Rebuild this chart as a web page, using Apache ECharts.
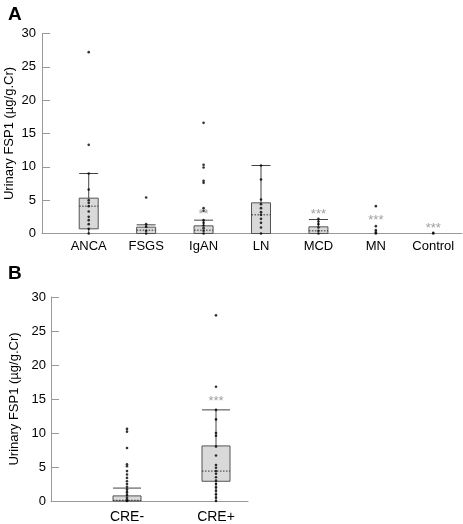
<!DOCTYPE html>
<html><head><meta charset="utf-8">
<script src="https://cdn.jsdelivr.net/npm/echarts@6/dist/echarts.min.js"></script>
<style>html,body{margin:0;padding:0;background:#fff}#c{width:463px;height:524px}</style>
</head><body><div id="c"></div>
<script>
// ---------- DATA ----------
const catsA = ['ANCA', 'FSGS', 'IgAN', 'LN', 'MCD', 'MN', 'Control'];
// [min, Q1, median, Q3, max] ; null = no box drawn
const boxA = [
  [0, 0.7, 4.1, 5.3, 9.0],
  [0, 0, 0.5, 0.95, 1.3],
  [0, 0, 0.5, 1.15, 2.0],
  [0, 0, 2.8, 4.6, 10.2],
  [0, 0, 0.4, 1.0, 2.1],
  null,
  null
];
const pointsA = [
  [27.2, 13.3, 9.0, 6.6, 5.0, 4.6, 4.1, 3.3, 2.5, 2.0, 1.4, 0.7, 0],
  [5.4, 1.4, 1.0, 0.4, 0],
  [16.6, 10.3, 9.9, 7.9, 7.6, 3.8, 3.4, 2.0, 1.6, 1.2, 0.8, 0.4, 0],
  [10.2, 8.1, 5.1, 4.4, 3.8, 3.2, 2.8, 2.2, 1.6, 0.9, 0],
  [2.2, 1.8, 1.4, 0.9, 0.4, 0],
  [4.1, 1.1, 0.5, 0.2, 0],
  [0.1, 0]
];
const sigA = ['', '', '**', '', '***', '***', '***'];
const sigYA = [null, null, 2.9, null, 2.9, 1.9, 0.75];

const catsB = ['CRE-', 'CRE+'];
const boxB = [
  [0, 0, 0.1, 0.75, 1.9],
  [0, 2.9, 4.4, 8.1, 13.4]
];
const pointsB = [
  [10.6, 10.2, 7.8, 5.4, 5.1, 4.4, 3.9, 3.4, 2.9, 2.5, 2.1, 1.7, 1.3, 0.9, 0.5, 0.2, 0],
  [27.3, 16.8, 13.4, 12.0, 10.0, 9.6, 8.0, 6.7, 5.3, 4.9, 4.4, 4.0, 3.5, 3.0, 2.5, 2.0, 1.5, 1.0, 0.5, 0]
];
const sigB = ['', '***'];
const sigYB = [null, 14.6];

const yTicks = { min: 0, max: 30, interval: 5 };
const yName = 'Urinary FSP1 (\u00b5g/g.Cr)';

// ---------- BUILD ----------
const chart = echarts.init(document.getElementById('c'), null, { renderer: 'canvas' });
const FONT = 'Liberation Sans, Arial, sans-serif';

function boxData(box) {
  const out = [];
  box.forEach((b, i) => { if (b) out.push([i].concat(b)); });
  return out;
}
function pointData(pts) {
  const out = [];
  pts.forEach((arr, i) => arr.forEach(v => out.push([i, v])));
  return out;
}
function sigData(sig, ys) {
  const out = [];
  sig.forEach((s, i) => { if (s) out.push({ value: [i, ys[i]], txt: s }); });
  return out;
}
function makeRender(boxW) {
  return function (params, api) {
    const i = api.value(0);
    const mn = api.value(1), q1 = api.value(2), md = api.value(3), q3 = api.value(4), mx = api.value(5);
    const x = api.coord([i, 0])[0];
    const yMin = api.coord([i, mn])[1], yQ1 = api.coord([i, q1])[1], yMd = api.coord([i, md])[1],
          yQ3 = api.coord([i, q3])[1], yMx = api.coord([i, mx])[1];
    const h = boxW / 2;
    const lineStyle = { stroke: '#444', lineWidth: 1, fill: null };
    return {
      type: 'group',
      children: [
        { type: 'rect', shape: { x: x - h, y: yQ3, width: boxW, height: yQ1 - yQ3 },
          style: { fill: '#d9d9d9', stroke: '#555', lineWidth: 1 } },
        { type: 'line', shape: { x1: x - h, y1: yMd, x2: x + h, y2: yMd },
          style: { stroke: '#333', lineWidth: 1, lineDash: [1.5, 1.5] } },
        { type: 'line', shape: { x1: x, y1: yQ3, x2: x, y2: yMx }, style: lineStyle },
        { type: 'line', shape: { x1: x, y1: yQ1, x2: x, y2: yMin }, style: lineStyle },
        { type: 'line', shape: { x1: x - h, y1: yMx, x2: x + h, y2: yMx }, style: lineStyle }
      ]
    };
  };
}

function frameY(grid, gap, margin, show) {
  return {
    gridIndex: grid, type: 'value', min: yTicks.min, max: yTicks.max, interval: yTicks.interval,
    name: show ? yName : '', nameLocation: 'middle', nameGap: gap, nameMoveOverlap: false,
    nameTextStyle: { fontSize: 13, color: '#000', fontFamily: FONT },
    axisLine: { show: show, lineStyle: { color: '#999', width: 1 } },
    axisTick: { show: show, inside: true, length: 8, lineStyle: { color: '#999' } },
    axisLabel: { show: show, color: '#000', fontSize: 13, margin: margin, fontFamily: FONT },
    splitLine: { show: false }
  };
}
function frameX(grid) {
  return {
    gridIndex: grid, type: 'value', min: 0, max: 1,
    axisLine: { show: true, onZero: false, lineStyle: { color: '#999', width: 1 } },
    axisTick: { show: false }, axisLabel: { show: false }, splitLine: { show: false }
  };
}
function catX(grid, cats, fs, margin) {
  return {
    gridIndex: grid, type: 'category', data: cats, boundaryGap: true,
    axisLine: { show: false }, axisTick: { show: false },
    axisLabel: { color: '#000', fontSize: fs, margin: margin, fontFamily: FONT, interval: 0 },
    splitLine: { show: false }
  };
}
function panelSeries(xi, yi, box, pts, sig, sigY, boxW) {
  return [
    { type: 'custom', xAxisIndex: xi, yAxisIndex: yi, data: boxData(box),
      renderItem: makeRender(boxW), encode: { x: 0, y: [1, 2, 3, 4, 5] }, z: 2, silent: true },
    { type: 'scatter', xAxisIndex: xi, yAxisIndex: yi, data: pointData(pts),
      symbol: 'circle', symbolSize: 2.6, itemStyle: { color: '#000' }, z: 4, silent: true },
    { type: 'scatter', xAxisIndex: xi, yAxisIndex: yi, data: sigData(sig, sigY),
      symbolSize: 0, z: 5, silent: true,
      label: { show: true, position: 'inside', formatter: p => p.data.txt,
        color: '#888', fontSize: 13, fontFamily: FONT } }
  ];
}

const G = { outerBoundsMode: 'none', containLabel: false };
const option = {
  animation: false,
  backgroundColor: '#fff',
  title: [
    { text: 'A', left: 3, top: 0, textStyle: { fontSize: 19, fontWeight: 'bold', color: '#000', fontFamily: FONT } },
    { text: 'B', left: 3, top: 259, textStyle: { fontSize: 19, fontWeight: 'bold', color: '#000', fontFamily: FONT } }
  ],
  grid: [
    Object.assign({ left: 42, top: 33.5, width: 420, height: 200 }, G),
    Object.assign({ left: 60, top: 33.5, width: 402, height: 200 }, G),
    Object.assign({ left: 51, top: 297, width: 197, height: 204 }, G),
    Object.assign({ left: 82.5, top: 297, width: 178, height: 204 }, G)
  ],
  xAxis: [frameX(0), catX(1, catsA, 13, 6), frameX(2), catX(3, catsB, 14, 9)],
  yAxis: [frameY(0, 26, 6, true), frameY(1, 0, 0, false), frameY(2, 30, 5, true), frameY(3, 0, 0, false)],
  series: [].concat(
    panelSeries(1, 1, boxA, pointsA, sigA, sigYA, 19),
    panelSeries(3, 3, boxB, pointsB, sigB, sigYB, 28)
  )
};
chart.setOption(option);
</script>
</body></html>
